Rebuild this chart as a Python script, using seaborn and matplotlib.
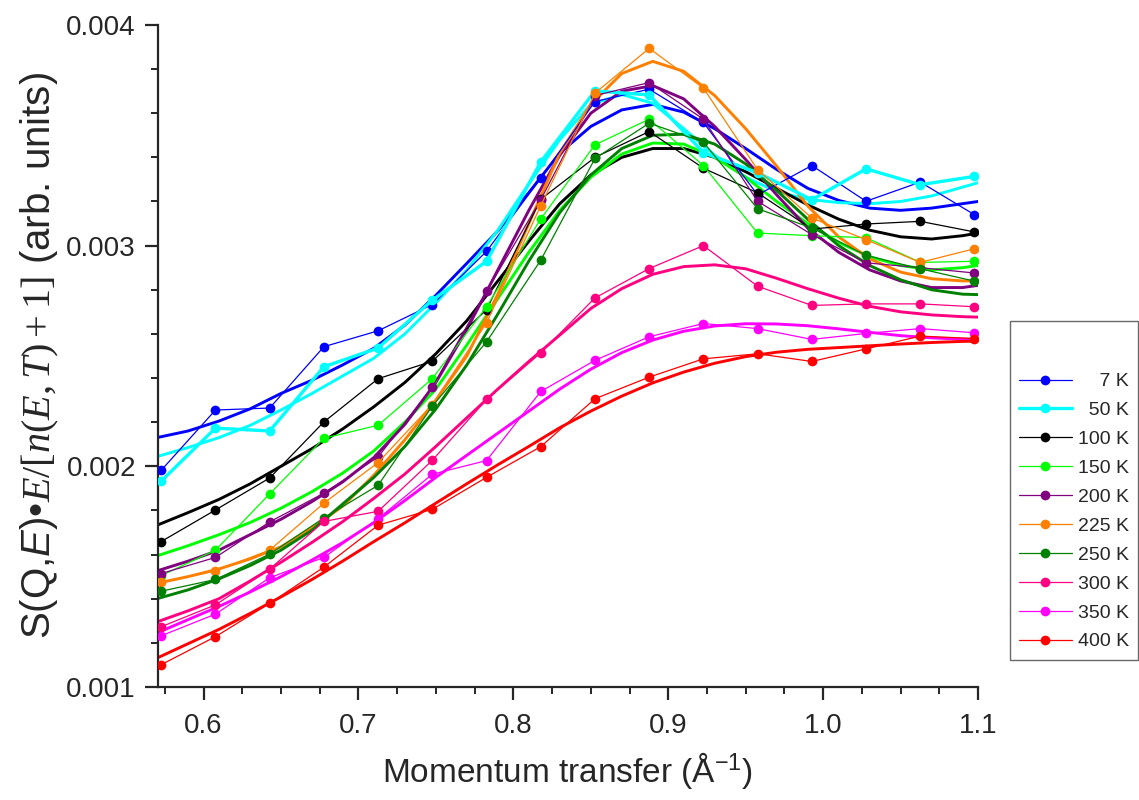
import numpy as np
import pandas as pd
import seaborn as sns
import matplotlib.pyplot as plt
from matplotlib.ticker import MultipleLocator, FormatStrFormatter

# Momentum transfer of the measured points (1/Angstrom)
q = [0.5727, 0.6077, 0.6427, 0.6777, 0.7127, 0.7477, 0.7827, 0.8177,
     0.8527, 0.8877, 0.9227, 0.9577, 0.9927, 1.0277, 1.0627, 1.0977]

q_fit = [0.57, 0.59, 0.61, 0.63, 0.65, 0.67, 0.69, 0.71, 0.73, 0.75,
         0.77, 0.79, 0.81, 0.83, 0.85, 0.87, 0.89, 0.91, 0.93, 0.95,
         0.97, 0.99, 1.01, 1.03, 1.05, 1.07, 1.09, 1.10]

temps = ['7 K', '50 K', '100 K', '150 K', '200 K', '225 K', '250 K', '300 K', '350 K', '400 K']

# measured S(Q,E)*E/[n+1], units of 1e-3
s7 = [1.982, 2.255, 2.264, 2.542, 2.614, 2.733, 2.974, 3.306, 3.653, 3.709, 3.558, 3.230, 3.363, 3.201, 3.288, 3.140]
s50 = [1.933, 2.173, 2.160, 2.451, 2.536, 2.753, 2.929, 3.379, 3.701, 3.683, 3.422, 3.330, 3.208, 3.348, 3.276, 3.314]
s100 = [1.659, 1.802, 1.947, 2.201, 2.397, 2.476, 2.710, 3.210, 3.400, 3.517, 3.351, 3.239, 3.075, 3.098, 3.110, 3.062]
s150 = [1.505, 1.620, 1.875, 2.127, 2.186, 2.397, 2.723, 3.121, 3.457, 3.573, 3.363, 3.057, 3.045, 3.036, 2.924, 2.929]
s200 = [1.514, 1.587, 1.748, 1.878, 2.042, 2.359, 2.793, 3.208, 3.680, 3.739, 3.573, 3.201, 3.050, 2.922, 2.900, 2.876]
s225 = [1.474, 1.526, 1.620, 1.833, 2.017, 2.280, 2.650, 3.181, 3.691, 3.894, 3.714, 3.344, 3.125, 3.027, 2.924, 2.986]
s250 = [1.434, 1.487, 1.602, 1.766, 1.914, 2.273, 2.564, 2.934, 3.395, 3.555, 3.469, 3.167, 3.080, 2.956, 2.895, 2.839]
s300 = [1.273, 1.372, 1.534, 1.750, 1.796, 2.027, 2.303, 2.514, 2.763, 2.896, 3.000, 2.816, 2.729, 2.736, 2.736, 2.723]
s350 = [1.232, 1.330, 1.495, 1.587, 1.763, 1.964, 2.026, 2.339, 2.480, 2.587, 2.647, 2.624, 2.575, 2.602, 2.624, 2.605]
s400 = [1.101, 1.228, 1.379, 1.543, 1.733, 1.805, 1.950, 2.089, 2.306, 2.404, 2.487, 2.510, 2.475, 2.532, 2.590, 2.579]

# fitted curves, units of 1e-3
f7 = [2.130, 2.160, 2.205, 2.260, 2.330, 2.390, 2.460, 2.535, 2.640, 2.775, 2.920, 3.067, 3.240, 3.420,
      3.540, 3.615, 3.640, 3.605, 3.530, 3.440, 3.345, 3.260, 3.205, 3.170, 3.160, 3.170, 3.190, 3.200]
f50 = [2.044, 2.085, 2.130, 2.185, 2.255, 2.330, 2.410, 2.490, 2.600, 2.740, 2.890, 3.070, 3.280, 3.480,
       3.640, 3.685, 3.645, 3.530, 3.410, 3.310, 3.245, 3.210, 3.195, 3.190, 3.200, 3.225, 3.265, 3.285]
f100 = [1.733, 1.790, 1.850, 1.920, 2.000, 2.080, 2.170, 2.270, 2.380, 2.510, 2.660, 2.840, 3.020, 3.190,
        3.320, 3.400, 3.440, 3.440, 3.400, 3.335, 3.260, 3.185, 3.120, 3.070, 3.040, 3.030, 3.045, 3.057]
f150 = [1.594, 1.640, 1.690, 1.745, 1.810, 1.885, 1.970, 2.070, 2.200, 2.350, 2.550, 2.760, 2.970, 3.160,
        3.310, 3.415, 3.465, 3.460, 3.400, 3.310, 3.200, 3.100, 3.015, 2.950, 2.910, 2.890, 2.900, 2.910]
f200 = [1.526, 1.570, 1.620, 1.690, 1.760, 1.840, 1.930, 2.040, 2.190, 2.380, 2.620, 2.890, 3.160, 3.410,
        3.600, 3.700, 3.725, 3.665, 3.540, 3.390, 3.230, 3.080, 2.970, 2.890, 2.840, 2.810, 2.810, 2.820]
f225 = [1.470, 1.500, 1.535, 1.580, 1.635, 1.720, 1.820, 1.960, 2.120, 2.300, 2.500, 2.780, 3.100, 3.420,
        3.640, 3.780, 3.835, 3.790, 3.680, 3.530, 3.360, 3.180, 3.040, 2.940, 2.880, 2.850, 2.840, 2.840]
f250 = [1.400, 1.440, 1.490, 1.550, 1.620, 1.710, 1.830, 1.950, 2.090, 2.260, 2.460, 2.690, 2.930, 3.150,
        3.320, 3.440, 3.500, 3.505, 3.460, 3.370, 3.250, 3.120, 3.000, 2.910, 2.845, 2.800, 2.780, 2.778]
f300 = [1.295, 1.345, 1.400, 1.480, 1.565, 1.655, 1.750, 1.855, 1.965, 2.090, 2.220, 2.350, 2.475, 2.595,
        2.715, 2.805, 2.870, 2.905, 2.913, 2.895, 2.852, 2.805, 2.762, 2.725, 2.700, 2.686, 2.678, 2.676]
f350 = [1.245, 1.305, 1.365, 1.430, 1.500, 1.575, 1.655, 1.745, 1.845, 1.950, 2.050, 2.150, 2.250, 2.350,
        2.440, 2.515, 2.572, 2.612, 2.636, 2.646, 2.645, 2.637, 2.623, 2.607, 2.592, 2.582, 2.576, 2.575]
f400 = [1.131, 1.196, 1.261, 1.333, 1.408, 1.487, 1.571, 1.659, 1.744, 1.833, 1.921, 2.007, 2.090, 2.175,
        2.250, 2.318, 2.378, 2.427, 2.467, 2.497, 2.517, 2.530, 2.538, 2.546, 2.554, 2.561, 2.566, 2.567]

series = [s7, s50, s100, s150, s200, s225, s250, s300, s350, s400]
fits = [f7, f50, f100, f150, f200, f225, f250, f300, f350, f400]
colors = ['#0000ff', '#00ffff', '#000000', '#00ff00', '#800080',
          '#ff8000', '#008000', '#ff0080', '#ff00ff', '#ff0000']
data_lw = [0.9, 2.4, 0.9, 0.9, 0.9, 0.9, 0.9, 0.9, 0.9, 0.9]

# pad labels so they line up on the right like the original legend
labels = ['    7 K', '  50 K', '100 K', '150 K', '200 K', '225 K', '250 K', '300 K', '350 K', '400 K']

sns.set_style('ticks')
plt.rcParams['font.family'] = ['Liberation Sans', 'DejaVu Sans']
plt.rcParams['mathtext.fontset'] = 'custom'
plt.rcParams['mathtext.rm'] = 'Liberation Serif'
plt.rcParams['mathtext.it'] = 'Liberation Serif:italic'
plt.rcParams['mathtext.sf'] = 'Liberation Sans:italic'

fig = plt.figure(figsize=(11.39, 8.0), dpi=100)
ax = fig.add_axes([0.1383, 0.1413, 0.7204, 0.8275])

# fitted curves underneath, measured points on top
for f, c in zip(fits, colors):
    sns.lineplot(x=q_fit, y=np.array(f) * 1e-3, color=c, lw=2.1, ax=ax, zorder=2)
for s, c, lw, lab in zip(series, colors, data_lw, labels):
    df = pd.DataFrame({'Q': q, 'S': np.array(s) * 1e-3})
    sns.lineplot(data=df, x='Q', y='S', color=c, lw=lw, marker='o', ms=7,
                 mec=c, mew=0, ax=ax, zorder=3, label=lab)

ax.set_xlim(0.5703, 1.1)
ax.set_ylim(0.001, 0.004)
ax.xaxis.set_major_locator(MultipleLocator(0.1))
ax.xaxis.set_minor_locator(MultipleLocator(0.025))
ax.yaxis.set_major_locator(MultipleLocator(0.001))
ax.yaxis.set_minor_locator(MultipleLocator(0.0002))
ax.xaxis.set_major_formatter(FormatStrFormatter('%.1f'))
ax.yaxis.set_major_formatter(FormatStrFormatter('%.3f'))

for side in ['top', 'right']:
    ax.spines[side].set_visible(False)
for side in ['left', 'bottom']:
    ax.spines[side].set_linewidth(1.6)
ax.tick_params(which='major', direction='out', length=9.5, width=1.6, labelsize=20, pad=6)
ax.tick_params(which='minor', direction='out', length=5, width=1.4)
ax.tick_params(axis='x', which='major', pad=9)

ax.set_xlabel('Momentum transfer (Å$^{\\mathregular{-1}}$)', fontsize=24, labelpad=8)
ax.set_ylabel('S(Q,$\\mathsf{E}$)•$E/[n(E,T)+1]$ (arb. units)', fontsize=29, labelpad=4)

leg = ax.legend(loc='upper right', bbox_to_anchor=(0.9995, 0.599), bbox_transform=fig.transFigure,
                borderaxespad=0, frameon=True, fancybox=False, edgecolor='#444444',
                fontsize=14, handlelength=2.7, handletextpad=0.3, labelspacing=0.58,
                borderpad=0.5, title=' ', title_fontsize=24)
leg.get_frame().set_linewidth(1.0)

fig.savefig('out.png', dpi=100)
